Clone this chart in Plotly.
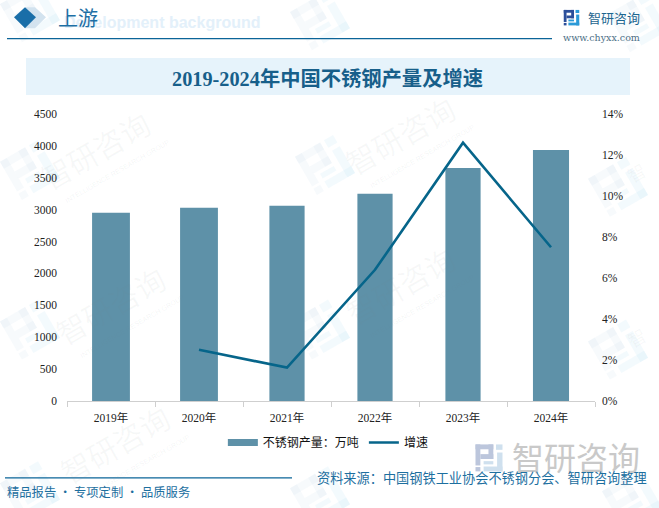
import math
import plotly.graph_objects as go

years = ["2019年", "2020年", "2021年", "2022年", "2023年", "2024年"]
output = [2950, 3029, 3060, 3248, 3655, 3936]
growth = [None, 2.5, 1.63, 6.4, 12.6, 7.5]
left_ticks = [0, 500, 1000, 1500, 2000, 2500, 3000, 3500, 4000, 4500]
right_ticks = [0, 2, 4, 6, 8, 10, 12, 14]
title = "2019-2024年中国不锈钢产量及增速"
source = "资料来源：中国钢铁工业协会不锈钢分会、智研咨询整理"
slogan = "精品报告 · 专项定制 · 品质服务"

W, H = 659, 508
L, R, T, B = 67, 595, 114, 401.5
CJK = "Noto Sans CJK SC"
SERIF = "Liberation Serif, Noto Sans CJK SC"
BLUE = "#0b6498"
BAR = "#5e91a8"
LINE = "#06658a"
BAR_WIDTHS = [0.43, 0.43, 0.40, 0.40, 0.40, 0.41]

def px(x): return (x - L) / (R - L)
def py(y): return 1 - (y - T) / (B - T)

shapes = []
annotations = []

def rect(x0, y0, x1, y1, color):
    shapes.append(dict(type="rect", xref="paper", yref="paper", x0=px(x0), x1=px(x1),
                       y0=py(y0), y1=py(y1), fillcolor=color, line_width=0, layer="below"))

def hline(x0, x1, y, color, w=1.3):
    shapes.append(dict(type="line", xref="paper", yref="paper", x0=px(x0), x1=px(x1),
                       y0=py(y), y1=py(y), line=dict(color=color, width=w), layer="below"))

def poly(pts, color):
    path = "M " + " L ".join(f"{px(a):.5f},{py(b):.5f}" for a, b in pts) + " Z"
    shapes.append(dict(type="path", xref="paper", yref="paper", path=path, fillcolor=color,
                       line_width=0, layer="below"))

def text(x, y, s, size, color, anchor="left", family=CJK, angle=0, bold=False):
    annotations.append(dict(xref="paper", yref="paper", x=px(x), y=py(y), text=f"<b>{s}</b>" if bold else s,
                            showarrow=False, xanchor=anchor, yanchor="middle", textangle=angle,
                            font=dict(size=size, color=color, family=family)))

LOGO_DARK = [(0, 0, .66, .18), (0, 0, .18, .78), (.48, 0, .66, .54), (.18, .36, .66, .54), (0, .84, .18, 1)]
LOGO_LIGHT = [(.76, 0, 1, .2), (.8, .3, 1, 1), (.3, .82, 1, 1), (.3, .62, .66, .74)]

def logo(cx, cy, s, dark, light, angle=0):
    a = math.radians(angle)
    def tr(u, v):
        dx, dy = (u - .5) * s, (v - .5) * s
        return cx + dx * math.cos(a) - dy * math.sin(a), cy + dx * math.sin(a) + dy * math.cos(a)
    for parts, col in ((LOGO_DARK, dark), (LOGO_LIGHT, light)):
        for u0, v0, u1, v1 in parts:
            poly([tr(u0, v0), tr(u1, v0), tr(u1, v1), tr(u0, v1)], col)

# repeated watermark (pale, rotated)
for cx, cy in [(95, 150), (400, 135), (110, 305), (400, 285), (115, 445)]:
    text(cx, cy, "智研咨询", 30, "rgba(120,130,140,0.06)", anchor="center", angle=-30)
    text(cx + 22, cy + 22, "INTELLIGENCE RESEARCH GROUP", 7, "rgba(120,130,140,0.09)", anchor="center", angle=-30, family="Liberation Sans")
for cx, cy in [(636, 172), (636, 337)]:
    text(cx, cy, "智", 18, "rgba(120,130,140,0.06)", anchor="center", angle=-30)
for lx, ly in [(30, 12), (320, 20), (638, 22), (30, 170), (325, 165), (618, 187),
               (30, 330), (320, 330), (618, 350), (30, 492), (320, 497), (632, 500)]:
    logo(lx, ly, 44, "rgba(190,215,235,0.13)", "rgba(190,225,245,0.18)", angle=-30)

# header
poly([(25, 7), (35, 7), (46, 17), (35, 28), (25, 28), (36, 17)], "#d3e3ef")
poly([(14, 17), (25, 7), (36, 17), (25, 28)], "#1a6ea8")
text(62, 22, "Development background", 16, "#e3f0fa", family="Liberation Sans", bold=True)
text(56, 17, "上游", 20, "#1d6fa5")
hline(7, 552, 38.5, BLUE)
rect(26, 58, 630, 95, "#e6f3fb")
text(327, 79, title, 20.3, "#175f8a", anchor="center", family="Liberation Serif, Noto Sans CJK SC", bold=True)

# brand at top right
logo(571.5, 17.5, 15.5, "#2c4f9a", "#2b9ad8")
text(586, 17, "智研咨询", 13, "#1d6690")
text(561, 37, "www.chyxx.com", 9.5, "#4d6f86", family="DejaVu Serif")

# footer
hline(5, 292, 478.5, BLUE)
text(5, 493, slogan, 12.3, "#1d6f9f")
logo(489, 458.5, 27, "#bcc6dc", "#cfe0ee")
text(510, 457, "智研咨询", 32, "#c9c9c9")
text(315, 478, source, 13.2, "#1d6f9f")

fig = go.Figure()
fig.add_bar(x=years, y=output, name="不锈钢产量：万吨", marker=dict(color=BAR, line_width=0),
            width=BAR_WIDTHS, yaxis="y", showlegend=False)
fig.add_scatter(x=[None], y=[None], name="不锈钢产量：万吨", mode="lines", line=dict(color=BAR, width=7), yaxis="y")
fig.add_scatter(x=years, y=growth, name="增速", mode="lines", line=dict(color=LINE, width=2.6),
                yaxis="y2", connectgaps=False)

fig.update_layout(
    width=W, height=H, autosize=False, paper_bgcolor="white", plot_bgcolor="rgba(0,0,0,0)",
    margin=dict(l=L, r=W - R, t=T, b=H - B, pad=0),
    font=dict(family=SERIF, size=11.5, color="#222222"),
    xaxis=dict(type="category", categoryorder="array", categoryarray=years, showgrid=False, showline=True,
               linecolor="#cfcfcf", linewidth=1, ticks="outside", ticklen=5, tickcolor="#cfcfcf",
               tickson="boundaries", ticklabelstandoff=6, tickfont=dict(size=11.5, color="#222222")),
    yaxis=dict(range=[0, 4500], tickvals=left_ticks, showgrid=False, zeroline=False, showline=False,
               ticks="", ticklabelstandoff=9, tickfont=dict(size=11.5, color="#222222")),
    yaxis2=dict(range=[0, 14], tickvals=right_ticks, ticktext=[f"{v}%" for v in right_ticks],
                overlaying="y", side="right", showgrid=False, zeroline=False, showline=False,
                ticks="", ticklabelstandoff=6, tickfont=dict(size=11.5, color="#222222")),
    legend=dict(orientation="h", x=0.495, xanchor="center", y=-0.094, yanchor="top", traceorder="normal",
                font=dict(size=12, color="#111111", family=CJK), itemwidth=30, bgcolor="rgba(0,0,0,0)"),
    shapes=shapes, annotations=annotations,
)
fig.write_html("out.html", config=dict(displayModeBar=False),
               post_script="document.body.style.margin='0';document.documentElement.style.overflow='hidden';")
